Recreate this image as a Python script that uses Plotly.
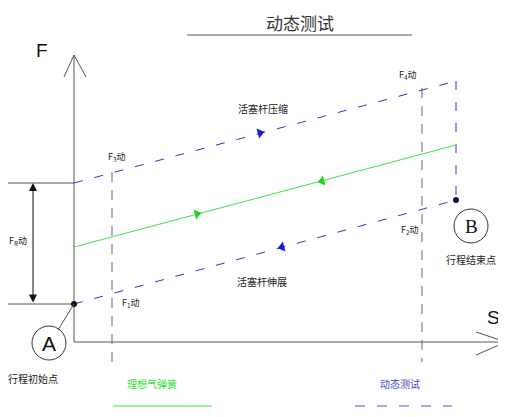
import numpy as np
import plotly.graph_objects as go

# diagram units: S = stroke (to the right), F = force (up); origin where the axes cross
stroke = [0, 382]                # start / end of stroke (points A and B)
f_compress = [159, 261]          # 活塞杆压缩 (dynamic test, upper)
f_extend = [38, 142]             # 活塞杆伸展 (dynamic test, lower)
f_ideal = [95, 197]              # 理想气弹簧
ref_stroke = [38, 348]           # dashed measuring positions
ref_top = [170, 254]
ref_bottom = -20

arrow_s = [186, 208, 123, 248]
arrow_f = [209, 95, 128, 161]
arrow_sym = ["triangle-right", "triangle-left", "triangle-right", "triangle-left"]
arrow_col = ["#1a1ae6", "#1a1ae6", "#22d422", "#22d422"]

f_labels = ["F<sub>3</sub>动", "F<sub>4</sub>动", "F<sub>2</sub>动", "F<sub>1</sub>动"]
f_label_s = [42, 333, 335, 56]
f_label_f = [185, 267, 112, 39]

BLUE = "#3434c8"
GREEN = "#44e044"
GRAY = "#555555"
CJK = "Noto Sans CJK SC"

fig = go.Figure()


def line(xs, ys, color, width=1, dash=None):
    fig.add_trace(go.Scatter(x=xs, y=ys, mode="lines", hoverinfo="skip",
                             line=dict(color=color, width=width, dash=dash)))


# axes with open arrow heads
line([0, 0], [0, 287], GRAY)
line([-10, 0, 12], [265, 287, 265], GRAY)
line([0, 432], [0, 0], GRAY)
line([402, 432, 402], [10, 0, -13], GRAY)

# reference lines at the left
line([-71, 0], [f_compress[0], f_compress[0]], GRAY)
line([-66, 0], [f_extend[0], f_extend[0]], GRAY)

# vertical dashed measuring lines
for s, top in zip(ref_stroke, ref_top):
    line([s, s], [top, ref_bottom], "#666666", dash="10px,8px")

# curves
line(stroke, f_compress, BLUE, dash="9px,12px")
line(stroke, f_extend, BLUE, dash="9px,12px")
line([stroke[1], stroke[1]], [f_compress[1], f_extend[1]], BLUE, dash="9px,12px")
line(stroke, f_ideal, GREEN)

# direction arrows along the curves
slope = np.degrees(np.arctan((f_compress[1] - f_compress[0]) / (stroke[1] - stroke[0])))
fig.add_trace(go.Scatter(x=arrow_s, y=arrow_f, mode="markers", hoverinfo="skip",
                         marker=dict(symbol=arrow_sym, color=arrow_col, size=9,
                                     angle=-slope, line_width=0)))

# points A, B
fig.add_trace(go.Scatter(x=[stroke[0], stroke[1]], y=[f_extend[0], f_extend[1]],
                         mode="markers", hoverinfo="skip",
                         marker=dict(color=["#111111", "#10104a"], size=6)))
line([0, -16], [f_extend[0], 12], GRAY)
fig.add_shape(type="circle", x0=-42, x1=-8, y0=-18, y1=16, line=dict(color="#333", width=1))
fig.add_shape(type="circle", x0=380, x1=414, y0=99, y1=133, line=dict(color="#333", width=1))

# legend lines
line([39, 138], [-64, -64], GREEN)
line([281, 378], [-64, -64], "#8c8ce6", width=1.5, dash="10px,12px")

# title underline
line([113, 338], [307, 307], GRAY)

ann = []


def txt(s, f, t, size=10, color="#222222", family=CJK):
    ann.append(dict(x=s, y=f, text=t, showarrow=False, xanchor="center", yanchor="middle",
                    font=dict(size=size, color=color, family=family)))


txt(226, 320, "动态测试", size=17, color="#333333")
txt(-32, 292, "F", size=19, family="Liberation Sans", color="#111")
txt(419, 25, "S", size=19, family="Liberation Sans", color="#111")
txt(189, 234, "活塞杆压缩", size=10)
txt(188, 61, "活塞杆伸展", size=10)
txt(-41, -36, "行程初始点", size=10)
txt(397, 83, "行程结束点", size=10)
txt(-25, -1, "A", size=21, family="Liberation Sans", color="#111")
txt(397, 116, "B", size=19, family="Liberation Serif", color="#111")
txt(-56, 101, "F<sub>R</sub>动", size=9)
for t, s, f in zip(f_labels, f_label_s, f_label_f):
    txt(s, f, t, size=9)
txt(78, -41, "理想气弹簧", size=10, color="#33dd33")
txt(326, -41, "动态测试", size=10, color="#4646c8")

# double arrow for F_R
ann.append(dict(x=-41, y=f_compress[0], ax=-41, ay=f_extend[0], xref="x", yref="y",
                axref="x", ayref="y", text="", showarrow=True, arrowside="end+start",
                arrowhead=2, arrowsize=1.6, arrowwidth=1, arrowcolor="#111"))

# the page puts the figure 8px in from the top-left corner
fig.update_layout(
    width=498, height=409, margin=dict(l=0, r=0, t=0, b=0),
    showlegend=False, plot_bgcolor="white", paper_bgcolor="white",
    xaxis=dict(range=[-66, 432], visible=False, fixedrange=True),
    yaxis=dict(range=[-75, 334], visible=False, fixedrange=True),
    annotations=ann,
)

fig.write_html("out.html")
